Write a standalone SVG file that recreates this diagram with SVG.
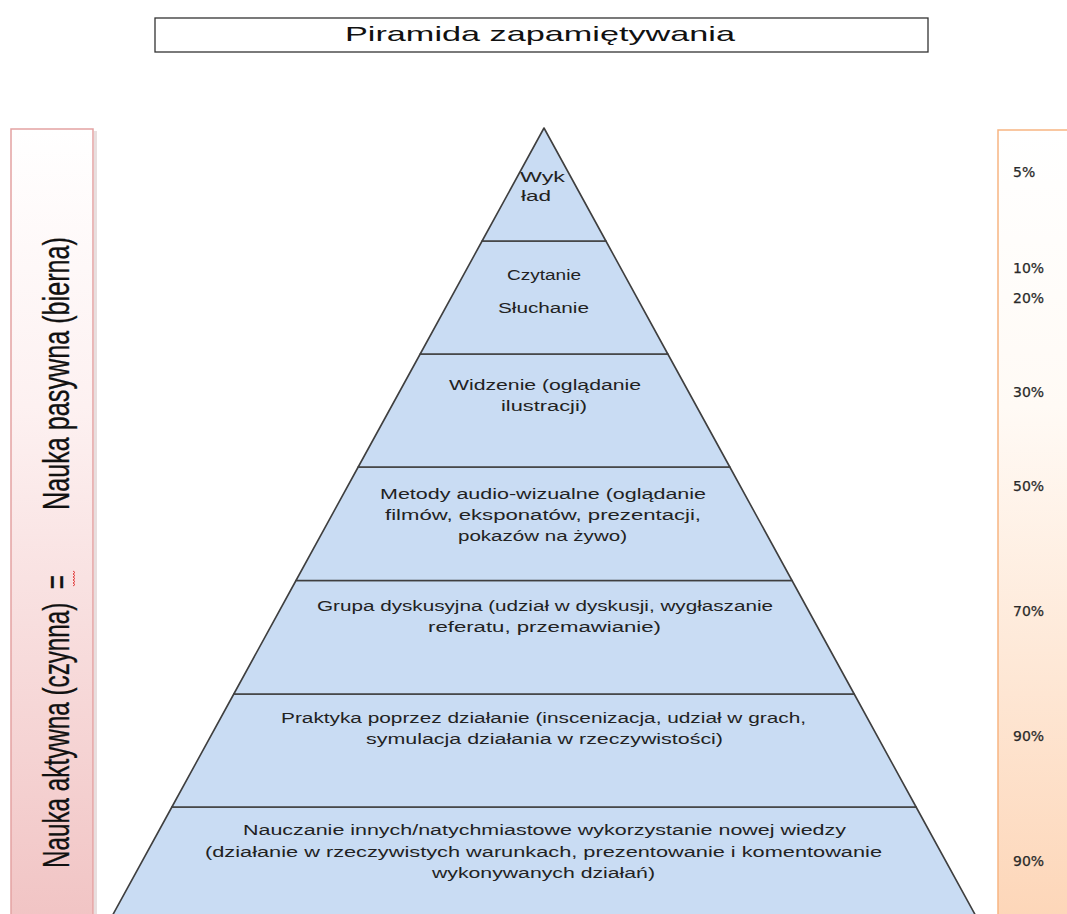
<svg xmlns="http://www.w3.org/2000/svg" width="1067" height="914" viewBox="0 0 1067 914">
<defs>
<linearGradient id="gPink" x1="0" y1="0" x2="0" y2="1">
<stop offset="0" stop-color="#ffffff"/>
<stop offset="0.35" stop-color="#fdf1f1"/>
<stop offset="1" stop-color="#f1c4c4"/>
</linearGradient>
<linearGradient id="gPeach" x1="0" y1="0" x2="0" y2="1">
<stop offset="0" stop-color="#ffffff"/>
<stop offset="0.35" stop-color="#fffaf5"/>
<stop offset="1" stop-color="#fdd6b8"/>
</linearGradient>
<style>
.layer{fill:#c9dcf3;stroke:#3f3f3f;stroke-width:1.6;stroke-linejoin:round}
.pt{font-family:"Liberation Sans",Arial,sans-serif;font-size:14px;fill:#222222;text-anchor:start}
.pc{font-family:"DejaVu Sans",Verdana,sans-serif;font-size:14px;fill:#2a2a2a;stroke:#2a2a2a;stroke-width:0.25}
.side{font-family:"Liberation Sans",Arial,sans-serif;font-size:36px;fill:#111111;white-space:pre;stroke:#111111;stroke-width:0.3}
.title{font-family:"Liberation Sans",Arial,sans-serif;font-size:21px;fill:#111111}
</style>
</defs>
<rect width="1067" height="914" fill="#ffffff"/>

<g id="title">
<rect x="155" y="18" width="773" height="34" fill="#ffffff" stroke="#333333" stroke-width="1.3"/>
<text class="title" x="345" y="41" textLength="390" lengthAdjust="spacingAndGlyphs">Piramida zapamiętywania</text>
</g>

<g id="left-bar">
<rect x="94" y="131" width="3" height="790" fill="#d8c8c8" opacity="0.6"/>
<rect x="11" y="129" width="82" height="792" fill="url(#gPink)" stroke="#e3a2a2" stroke-width="1.5"/>
<text class="side" transform="translate(69,510) rotate(-90)" textLength="273" lengthAdjust="spacingAndGlyphs">Nauka pasywna (bierna)</text>
<text class="side" transform="translate(69,868) rotate(-90)" textLength="293" lengthAdjust="spacingAndGlyphs">Nauka aktywna (czynna)  =</text>
<path d="M73,586 l2,-1.5 l-2,-1.5 l2,-1.5 l-2,-1.5 l2,-1.5 l-2,-1.5 l2,-1.5 l-2,-1.5 l2,-1.5 l-2,-1.5" fill="none" stroke="#e03030" stroke-width="0.9"/>
</g>

<g id="right-bar">
<rect x="998" y="130" width="80" height="792" fill="url(#gPeach)" stroke="#f7b582" stroke-width="1.5"/>
<text class="pc" x="1013" y="177">5%</text>
<text class="pc" x="1013" y="273">10%</text>
<text class="pc" x="1013" y="303">20%</text>
<text class="pc" x="1013" y="397">30%</text>
<text class="pc" x="1013" y="491">50%</text>
<text class="pc" x="1013" y="616">70%</text>
<text class="pc" x="1013" y="741">90%</text>
<text class="pc" x="1013" y="866">90%</text>
</g>

<g id="layer-7">
<polygon class="layer" points="171.9,807 916.1,807 978.6,921 109.4,921"/>
<text class="pt" x="243" y="835" textLength="603" lengthAdjust="spacingAndGlyphs">Nauczanie innych/natychmiastowe wykorzystanie nowej wiedzy</text>
<text class="pt" x="205" y="857" textLength="677" lengthAdjust="spacingAndGlyphs">(działanie w rzeczywistych warunkach, prezentowanie i komentowanie</text>
<text class="pt" x="432" y="878" textLength="223" lengthAdjust="spacingAndGlyphs">wykonywanych działań)</text>
</g>

<g id="layer-6">
<polygon class="layer" points="233.8,694 854.2,694 916.1,807 171.9,807"/>
<text class="pt" x="281" y="723" textLength="525" lengthAdjust="spacingAndGlyphs">Praktyka poprzez działanie (inscenizacja, udział w grach,</text>
<text class="pt" x="366" y="744" textLength="357" lengthAdjust="spacingAndGlyphs">symulacja działania w rzeczywistości)</text>
</g>

<g id="layer-5">
<polygon class="layer" points="296,580.5 792,580.5 854.2,694 233.8,694"/>
<text class="pt" x="317" y="611" textLength="456" lengthAdjust="spacingAndGlyphs">Grupa dyskusyjna (udział w dyskusji, wygłaszanie</text>
<text class="pt" x="428" y="632" textLength="233" lengthAdjust="spacingAndGlyphs">referatu, przemawianie)</text>
</g>

<g id="layer-4">
<polygon class="layer" points="358.2,467 729.8,467 792,580.5 296,580.5"/>
<text class="pt" x="380" y="499" textLength="326" lengthAdjust="spacingAndGlyphs">Metody audio-wizualne (oglądanie</text>
<text class="pt" x="385" y="520" textLength="316" lengthAdjust="spacingAndGlyphs">filmów, eksponatów, prezentacji,</text>
<text class="pt" x="458" y="541" textLength="169" lengthAdjust="spacingAndGlyphs">pokazów na żywo)</text>
</g>

<g id="layer-3">
<polygon class="layer" points="420.2,354 667.8,354 729.8,467 358.2,467"/>
<text class="pt" x="449" y="390" textLength="192" lengthAdjust="spacingAndGlyphs">Widzenie (oglądanie</text>
<text class="pt" x="501" y="411" textLength="86" lengthAdjust="spacingAndGlyphs">ilustracji)</text>
</g>

<g id="layer-2">
<polygon class="layer" points="482.1,241 605.9,241 667.8,354 420.2,354"/>
<text class="pt" x="507" y="280" textLength="74" lengthAdjust="spacingAndGlyphs">Czytanie</text>
<text class="pt" x="498" y="313" textLength="91" lengthAdjust="spacingAndGlyphs">Słuchanie</text>
</g>

<g id="layer-1">
<polygon class="layer" points="544,128 605.9,241 482.1,241"/>
<text class="pt" x="520" y="182" textLength="45" lengthAdjust="spacingAndGlyphs">Wyk</text>
<text class="pt" x="521" y="201" textLength="30" lengthAdjust="spacingAndGlyphs">ład</text>
</g>

<g id="connectors"></g>
</svg>
